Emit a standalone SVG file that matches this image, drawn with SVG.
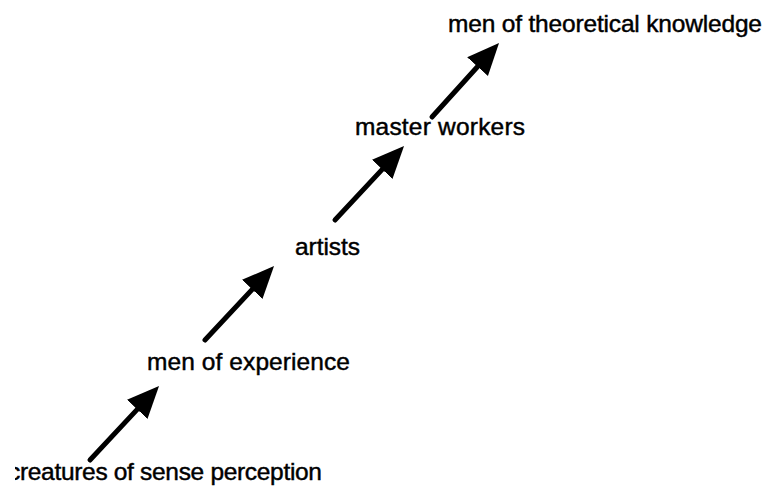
<svg xmlns="http://www.w3.org/2000/svg" width="772" height="491" viewBox="0 0 772 491">
  <style>
    .lbl { font-family: "Liberation Sans", Arial, Helvetica, sans-serif; font-size: 24.5px; fill: #000; stroke: #000; stroke-width: 0.45; }
    .conn { stroke: #000; stroke-width: 5; stroke-linecap: round; fill: none; }
  </style>
  <defs>
    <marker id="head" markerUnits="userSpaceOnUse" markerWidth="34" markerHeight="30" refX="12" refY="15" orient="auto" viewBox="0 0 34 30">
      <path d="M0,1 L32,15 L0,29 z" fill="#000"/>
    </marker>
    <clipPath id="leftclip"><rect x="15" y="0" width="760" height="491"/></clipPath>
  </defs>
  <rect width="772" height="491" fill="#fff"/>
  <g id="connectors">
    <line class="conn" x1="90" y1="460" x2="145.4" y2="400.6" marker-end="url(#head)"/>
    <line class="conn" x1="205" y1="340" x2="260.4" y2="280.6" marker-end="url(#head)"/>
    <line class="conn" x1="335" y1="220" x2="390.4" y2="160.6" marker-end="url(#head)"/>
    <line class="conn" x1="432" y1="117" x2="485.6" y2="57.8" marker-end="url(#head)"/>
  </g>
  <g id="node-theoretical"><text class="lbl" x="448" y="32" textLength="314" lengthAdjust="spacing">men of theoretical knowledge</text></g>
  <g id="node-master"><text class="lbl" x="355" y="135" textLength="170" lengthAdjust="spacing">master workers</text></g>
  <g id="node-artists"><text class="lbl" x="295" y="255" textLength="65" lengthAdjust="spacing">artists</text></g>
  <g id="node-experience"><text class="lbl" x="147" y="370" textLength="203" lengthAdjust="spacing">men of experience</text></g>
  <g id="node-sense" clip-path="url(#leftclip)"><text class="lbl" x="8" y="480" textLength="314" lengthAdjust="spacing">creatures of sense perception</text></g>
</svg>
